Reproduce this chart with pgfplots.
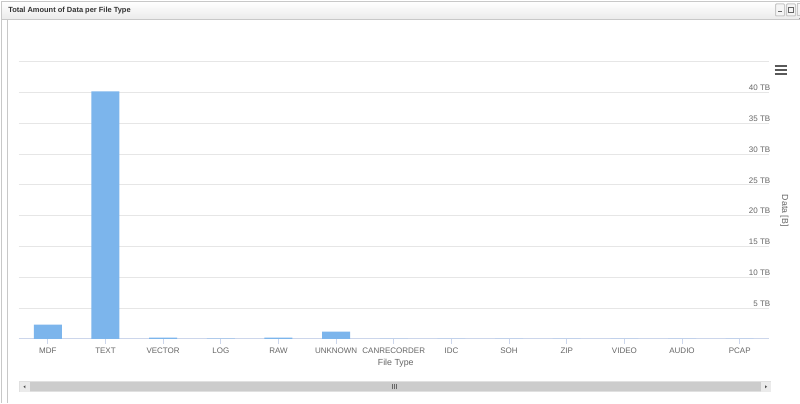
\documentclass[border=0pt]{standalone}
\usepackage{pgfplots}
\pgfplotsset{compat=1.18}
\usepackage{fontspec}
\setmainfont{Liberation Sans}
\definecolor{barblue}{HTML}{7CB5EC}
\definecolor{gridc}{HTML}{E6E6E6}
\definecolor{axisc}{HTML}{CCD6EB}
\definecolor{txt}{HTML}{666666}
\definecolor{frame}{HTML}{C8C8C8}
\begin{document}
\begin{tikzpicture}
\begin{scope}[x=0.75pt,y=0.75pt]
\path (0,0) rectangle (800,403);
% window frame
\fill[white] (0,0) rectangle (800,403);
\fill[top color=white, bottom color=black!8] (2,384) rectangle (800,401.5);
\draw[frame, line width=0.75pt] (1.5,0) -- (1.5,401.5) -- (800,401.5);
\draw[frame, line width=0.75pt] (2,383.5) -- (800,383.5);
\draw[frame, line width=0.75pt] (7.5,0) -- (7.5,383.5);
\node[anchor=west, inner sep=0pt, font=\fontsize{5.6}{6.5}\selectfont\bfseries, text=black!80] at (8,392) {Total Amount of Data per File Type};
% window buttons
\foreach \bx in {776,787}{
  \draw[frame, fill=black!4, line width=0.75pt, rounded corners=0.6pt] (\bx,387) rectangle ++(9,12);
}
\draw[frame, fill=black!4, line width=0.75pt] (798,387) -- (800,387) (798,387) -- (798,399) -- (800,399);
\draw[black!60, line width=0.75pt] (778.5,391) -- (782.5,391);
\draw[black!60, line width=0.75pt] (789,390) rectangle (794,395.5);
\draw[black!60, line width=1pt] (789,395.2) -- (794,395.2);
% hamburger menu
\foreach \hy in {337,333,329}{
  \draw[black!65, line width=1.6pt] (775,\hy) -- (787,\hy);
}
% scrollbar
\fill[black!20] (20,11) rectangle (771,21);
\draw[black!12, line width=0.75pt] (20,11) rectangle (771,21);
\fill[black!8] (20,11) rectangle (30,21);
\fill[black!8] (761,11) rectangle (771,21);
\fill[black!70] (23.5,16) -- (25.5,17.5) -- (25.5,14.5) -- cycle;
\fill[black!70] (767.5,16) -- (765.5,17.5) -- (765.5,14.5) -- cycle;
\foreach \gx in {393,395,397}{
  \draw[black!60, line width=0.6pt] (\gx,13.5) -- (\gx,18.5);
}
\end{scope}
\begin{axis}[
  at={(14.25pt,48pt)}, anchor=south west, scale only axis,
  width=562.5pt, height=207.75pt,
  xmin=-0.5, xmax=12.5, ymin=0, ymax=45,
  ybar, bar width=21pt,
  axis x line*=bottom, axis y line*=right,
  x axis line style={draw=axisc, line width=0.75pt, -},
  y axis line style={draw=none},
  xtick={0,...,12},
  xticklabels={MDF,TEXT,VECTOR,LOG,RAW,UNKNOWN,CANRECORDER,IDC,SOH,ZIP,VIDEO,AUDIO,PCAP},
  xtick align=outside, major tick length=3.75pt,
  xtick style={draw=axisc, line width=0.75pt},
  ytick={0,5,...,45},
  yticklabels={,5 TB,10 TB,15 TB,20 TB,25 TB,30 TB,35 TB,40 TB,},
  ytick style={draw=none},
  ymajorgrids, grid style={gridc, line width=0.75pt},
  tick label style={font=\fontsize{6}{7}\selectfont, text=txt},
  yticklabel style={anchor=base east, inner sep=0pt, xshift=1.5pt, yshift=1.35pt},
  xticklabel style={anchor=base, inner sep=0pt},
  every x tick label/.append style={yshift=-7pt},
  clip=false,
]
\addplot[fill=barblue, draw=none] coordinates {
  (0,2.3) (1,40.2) (2,0.2) (3,0.02) (4,0.2) (5,1.15)
  (6,0) (7,0) (8,0) (9,0) (10,0) (11,0) (12,0)
};
\end{axis}
\begin{scope}[x=0.75pt,y=0.75pt]
\node[anchor=center, font=\fontsize{6.6}{8}\selectfont, text=txt] at (396,40) {File Type};
\node[rotate=-90, anchor=center, font=\fontsize{6.6}{8}\selectfont, text=txt] at (785,192) {Data [B]};
\end{scope}
\end{tikzpicture}
\end{document}
